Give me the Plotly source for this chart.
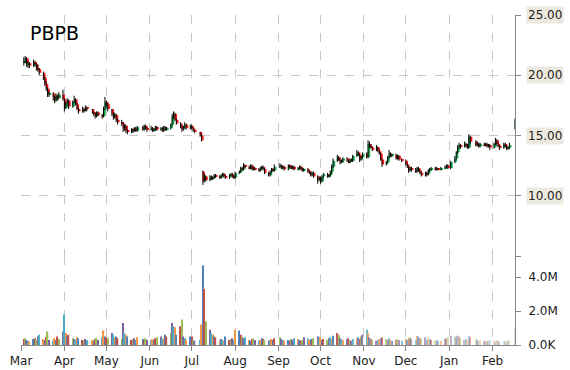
import plotly.graph_objects as go
import pandas as pd

title_text = "PBPB"
holidays = ["2014-04-18", "2014-05-26", "2014-07-04", "2014-09-01", "2014-11-27",
            "2014-12-25", "2015-01-01", "2015-01-19", "2015-02-16"]
dates = pd.bdate_range("2014-03-03", "2015-02-17", freq="C", holidays=holidays)

opens = [
    21.0,21.2,21.4,20.8,21.0,20.8,21.1,20.9,20.6,20.5,20.2,19.8,19.3,18.9,18.4,18.5,18.2,17.9,18.3,18.1,18.4,
    18.0,17.3,17.6,17.9,17.4,17.8,18.0,17.6,17.2,17.0,17.2,17.1,17.3,17.2,16.9,16.8,16.6,16.9,16.7,16.6,17.2,
    17.8,17.6,17.2,16.8,16.5,16.7,16.3,16.1,16.0,15.6,15.8,15.4,15.3,15.5,15.4,15.6,15.4,15.7,15.5,15.8,15.6,
    15.5,15.6,15.4,15.5,15.7,15.5,15.6,15.4,15.7,15.5,15.6,15.9,16.6,16.8,16.3,16.0,15.8,15.5,15.7,15.9,15.6,
    15.8,15.6,15.4,15.3,15.0,12.0,11.2,11.6,11.3,11.6,11.4,11.5,11.7,11.6,11.5,11.7,11.8,11.6,11.5,11.7,11.8,11.6,
    11.5,11.9,12.0,12.3,12.2,12.5,12.4,12.3,12.5,12.2,12.3,12.2,12.1,12.3,12.4,12.2,11.9,11.7,12.0,12.2,12.1,
    12.4,12.5,12.3,12.4,12.2,12.5,12.4,12.3,12.4,12.2,12.3,12.4,12.2,12.1,12.2,12.0,11.9,11.7,11.9,11.6,11.3,
    11.5,11.2,11.6,11.8,11.6,11.7,12.0,12.4,12.9,13.2,13.0,12.8,12.9,13.1,12.9,12.8,13.0,12.9,13.3,13.6,13.4,13.0,13.2,
    13.5,13.2,14.3,14.1,14.0,13.8,14.0,13.7,13.5,13.0,12.6,12.8,13.2,13.5,13.3,13.4,13.1,13.3,13.0,
    12.9,12.6,12.4,12.1,12.3,12.2,12.0,12.3,12.1,11.9,11.7,11.9,11.8,12.1,12.2,12.3,12.2,12.3,12.2,12.3,12.4,12.5,
    12.3,12.8,13.1,13.6,14.0,14.2,14.1,14.3,14.2,14.0,14.9,14.5,14.2,14.3,14.1,14.3,14.2,14.3,14.1,14.2,
    14.0,14.3,14.6,14.3,14.1,14.0,14.3,14.1,13.9,14.0,15.6,
]
highs = [
    21.5,21.6,21.5,21.2,21.1,21.3,21.2,21.0,20.9,20.6,20.3,19.9,19.5,19.0,18.7,18.6,18.3,18.5,18.4,18.6,18.8,
    18.1,17.8,18.1,18.0,17.9,18.3,18.1,17.7,17.3,17.4,17.3,17.5,17.4,17.2,17.0,16.9,17.0,17.0,16.8,17.4,18.2,
    17.9,17.7,17.2,16.9,16.9,16.8,16.4,16.3,16.1,15.9,15.9,15.5,15.6,15.6,15.7,15.7,15.8,15.8,15.9,15.9,15.7,
    15.8,15.7,15.6,15.8,15.8,15.7,15.7,15.8,15.8,15.7,16.0,16.8,17.0,16.9,16.4,16.1,15.9,15.8,16.1,16.0,15.9,
    15.9,15.7,15.5,15.3,15.1,12.1,11.8,11.7,11.7,11.7,11.6,11.8,11.8,11.7,11.8,11.9,11.9,11.7,11.8,11.9,11.9,11.7,
    12.0,12.1,12.4,12.4,12.7,12.6,12.5,12.6,12.6,12.4,12.4,12.3,12.4,12.5,12.5,12.3,12.0,12.1,12.3,12.3,12.6,
    12.7,12.6,12.5,12.5,12.6,12.6,12.5,12.5,12.5,12.4,12.5,12.5,12.3,12.3,12.3,12.1,12.0,12.0,12.0,11.7,11.6,
    11.6,11.7,11.9,11.9,11.8,12.1,12.6,13.1,13.4,13.3,13.1,13.0,13.2,13.2,13.0,13.1,13.1,13.4,13.8,13.7,13.5,13.3,13.6,
    13.6,14.6,14.5,14.3,14.1,14.2,14.1,13.8,13.6,13.1,12.9,13.3,13.8,13.6,13.5,13.5,13.4,13.4,13.1,
    13.0,12.7,12.5,12.4,12.4,12.3,12.4,12.4,12.2,12.0,12.0,12.0,12.2,12.3,12.4,12.4,12.4,12.3,12.4,12.5,12.6,12.6,
    12.9,13.3,13.7,14.2,14.4,14.3,14.5,14.4,14.3,15.1,15.0,14.6,14.5,14.4,14.4,14.4,14.4,14.4,14.3,14.3,
    14.4,14.8,14.7,14.4,14.2,14.4,14.4,14.2,14.1,14.4,16.4,
]
lows = [
    20.8,21.0,20.7,20.6,20.6,20.7,20.7,20.4,20.3,20.0,19.6,19.1,18.7,18.2,18.2,17.9,17.7,17.8,17.9,18.0,17.9,
    17.0,17.2,17.5,17.2,17.3,17.7,17.5,17.1,16.8,16.9,16.9,17.0,17.0,16.8,16.6,16.4,16.5,16.6,16.4,16.5,17.1,
    17.4,17.0,16.6,16.3,16.4,16.1,15.9,15.8,15.3,15.4,15.2,15.1,15.2,15.2,15.3,15.3,15.3,15.4,15.4,15.5,15.3,
    15.4,15.3,15.3,15.4,15.4,15.4,15.3,15.3,15.4,15.4,15.5,15.8,16.4,16.2,15.9,15.6,15.3,15.4,15.6,15.5,15.5,
    15.5,15.3,15.2,14.9,14.5,10.9,11.1,11.2,11.2,11.3,11.3,11.4,11.5,11.4,11.4,11.6,11.5,11.4,11.4,11.6,11.5,11.4,
    11.4,11.8,11.9,12.1,12.1,12.3,12.2,12.2,12.1,12.1,12.1,12.0,12.0,12.2,12.1,11.8,11.6,11.6,11.9,12.0,12.0,
    12.3,12.2,12.2,12.1,12.1,12.3,12.2,12.2,12.1,12.1,12.2,12.1,12.0,12.0,11.9,11.8,11.6,11.6,11.5,11.0,11.2,
    11.0,11.1,11.5,11.5,11.5,11.6,11.8,12.3,12.8,12.9,12.6,12.7,12.8,12.8,12.7,12.7,12.8,12.8,13.2,13.3,12.8,12.9,13.1,
    13.1,13.1,14.0,13.9,13.7,13.7,13.6,13.4,12.9,12.4,12.5,12.7,13.1,13.2,13.2,13.0,13.0,12.9,12.8,
    12.5,12.3,11.9,12.0,12.0,11.9,11.9,12.0,11.8,11.6,11.6,11.6,11.7,12.0,12.1,12.1,12.1,12.1,12.1,12.2,12.3,12.2,
    12.2,12.7,13.0,13.5,13.9,13.9,14.0,14.0,13.9,13.9,14.3,14.1,14.1,14.0,14.0,14.1,14.1,14.0,14.0,13.8,
    13.9,14.2,14.1,14.0,13.8,13.9,14.0,13.8,13.8,13.9,15.5,
]
closes = [
    21.2,21.4,20.9,21.0,20.8,21.1,20.9,20.6,20.5,20.2,19.8,19.3,18.9,18.4,18.5,18.2,17.9,18.3,18.1,18.4,18.0,
    17.3,17.6,17.9,17.4,17.8,18.0,17.6,17.2,17.0,17.2,17.1,17.3,17.2,16.9,16.8,16.6,16.9,16.7,16.6,17.2,17.8,
    17.6,17.2,16.8,16.5,16.7,16.3,16.1,16.0,15.6,15.8,15.4,15.3,15.5,15.4,15.6,15.4,15.7,15.5,15.8,15.6,15.5,
    15.6,15.4,15.5,15.7,15.5,15.6,15.4,15.7,15.5,15.6,15.9,16.6,16.8,16.3,16.0,15.8,15.5,15.7,15.9,15.6,15.8,
    15.6,15.4,15.3,15.0,14.6,11.2,11.6,11.3,11.6,11.4,11.5,11.7,11.6,11.5,11.7,11.8,11.6,11.5,11.7,11.8,11.6,11.5,
    11.9,12.0,12.3,12.2,12.5,12.4,12.3,12.5,12.2,12.3,12.2,12.1,12.3,12.4,12.2,11.9,11.7,12.0,12.2,12.1,12.4,
    12.5,12.3,12.4,12.2,12.5,12.4,12.3,12.4,12.2,12.3,12.4,12.2,12.1,12.2,12.0,11.9,11.7,11.9,11.6,11.3,11.5,
    11.2,11.6,11.8,11.6,11.7,12.0,12.4,12.9,13.2,13.0,12.8,12.9,13.1,12.9,12.8,13.0,12.9,13.3,13.6,13.4,13.0,13.2,13.5,
    13.2,14.3,14.1,14.0,13.8,14.0,13.7,13.5,13.0,12.6,12.8,13.2,13.5,13.3,13.4,13.1,13.3,13.0,12.9,
    12.6,12.4,12.1,12.3,12.2,12.0,12.3,12.1,11.9,11.7,11.9,11.8,12.1,12.2,12.3,12.2,12.3,12.2,12.3,12.4,12.5,12.3,
    12.8,13.1,13.6,14.0,14.2,14.1,14.3,14.2,14.0,14.9,14.5,14.2,14.3,14.1,14.3,14.2,14.3,14.1,14.2,14.0,
    14.3,14.6,14.3,14.1,14.0,14.3,14.1,13.9,14.0,14.2,16.2,
]
volumes_m = [
    0.35,0.40,0.30,0.25,0.20,0.35,0.40,0.30,0.50,0.60,0.35,0.30,0.45,0.80,0.30,0.25,0.40,0.30,0.50,0.35,0.80,
    1.80,0.70,0.50,0.60,0.40,0.35,0.30,0.45,0.40,0.30,0.25,0.35,0.30,0.30,0.25,0.35,0.40,0.30,0.45,0.85,0.50,
    0.45,0.40,0.70,0.60,0.45,0.50,0.40,0.35,1.30,0.70,0.60,0.50,0.30,0.35,0.40,0.30,0.45,0.35,0.30,0.40,0.30,
    0.30,0.35,0.30,0.40,0.45,0.50,0.35,0.40,0.60,0.50,0.70,1.30,1.10,1.05,0.60,1.10,1.50,0.50,0.40,0.30,0.50,
    0.50,0.30,0.25,0.30,1.20,4.70,3.30,1.40,0.90,0.70,0.60,0.50,0.45,0.25,0.35,0.30,0.25,0.50,0.30,0.35,0.40,0.30,
    0.90,0.85,0.60,0.50,0.40,0.45,0.30,0.25,0.35,0.40,0.30,0.25,0.30,0.40,0.35,0.30,0.25,0.30,0.35,0.30,0.40,
    0.45,0.35,0.30,0.25,0.30,0.25,0.35,0.30,0.40,0.35,0.30,0.25,0.30,0.45,0.40,0.30,0.35,0.25,0.40,0.50,0.40,
    0.45,0.30,0.35,0.30,0.40,0.45,0.35,0.55,0.70,0.60,0.40,0.35,0.30,0.35,0.40,0.30,0.25,0.35,0.40,0.45,0.35,0.50,0.60,
    0.90,0.70,0.45,0.35,0.30,0.25,0.30,0.35,0.40,0.45,0.35,0.30,0.40,0.30,0.25,0.30,0.35,0.30,0.25,
    0.35,0.30,0.40,0.45,0.35,0.30,0.55,0.50,0.40,0.35,0.45,0.30,0.40,0.35,0.30,0.25,0.30,0.20,0.25,0.35,0.40,0.45,
    0.55,0.50,0.45,0.55,0.50,0.40,0.30,0.35,0.30,0.55,0.45,0.35,0.30,0.25,0.30,0.20,0.25,0.20,0.25,0.30,
    0.25,0.20,0.25,0.30,0.20,0.25,0.20,0.20,0.25,0.30,1.00,
]
price_ticks = [5, 10, 15, 20, 25]
vol_ticks = [0, 2, 4]
vol_tick_text = ["0.0K", "2.0M", "4.0M"]

n = len(dates)
for arr in (opens, highs, lows, closes, volumes_m):
    assert len(arr) == n, (len(arr), n)

DAY = 86400000
UP, DOWN = "#14A84E", "#FF1A1A"
palette = ["#4F81BD", "#C0504D", "#9BBB59", "#8064A2", "#4BACC6", "#F79646"]
vol_colors = [palette[(i + 1) % len(palette)] for i in range(n)]
fade_start = 147
vol_opacity = [1.0 if i < fade_start else 1.0 - 0.72 * (i - fade_start) / (n - fade_start) for i in range(n)]

body_base = [min(o, c) for o, c in zip(opens, closes)]
body_h = [max(abs(c - o), 0.05) for o, c in zip(opens, closes)]
body_col = [UP if c >= o else DOWN for o, c in zip(opens, closes)]

FONT = "DejaVu Sans"
GRID = "#c8c8c8"
AX = "#888888"

fig = go.Figure()
fig.add_trace(go.Bar(x=dates, y=volumes_m, xaxis="x", yaxis="y",
                     marker=dict(color=vol_colors, opacity=vol_opacity, line_width=0),
                     width=DAY * 0.9, offset=-DAY * 0.45, hoverinfo="skip"))
fig.add_trace(go.Bar(x=dates, y=body_h, base=body_base, xaxis="x2", yaxis="y2",
                     marker=dict(color=body_col, line_width=0),
                     width=DAY * 1.8, offset=-DAY * 0.3, hoverinfo="skip"))
fig.add_trace(go.Ohlc(x=dates, open=opens, high=highs, low=lows, close=closes,
                      xaxis="x2", yaxis="y2", tickwidth=0,
                      increasing=dict(line=dict(color="black", width=1)),
                      decreasing=dict(line=dict(color="black", width=1))))

split = (345 - 256) / 330.0
xcommon = dict(type="date", range=["2014-03-01", "2015-02-17"], tick0="2014-03-01", dtick="M1",
               showgrid=True, gridcolor=GRID, griddash="dash", gridwidth=1, zeroline=False,
               automargin=False)
fig.update_layout(
    width=570, height=370,
    margin=dict(l=21, r=55, t=15, b=25, autoexpand=False),
    paper_bgcolor="white", plot_bgcolor="white",
    showlegend=False, barmode="overlay",
    font=dict(family=FONT, size=12, color="#222222"),
    xaxis=dict(**xcommon, domain=[0, 1], anchor="y", tickformat="%b",
               ticks="outside", ticklen=5, tickcolor=AX, showline=True, linecolor=AX,
               tickfont=dict(family=FONT, size=12, color="#222222")),
    xaxis2=dict(**xcommon, domain=[0, 1], anchor="y2", matches="x", showticklabels=False,
                ticks="", showline=False, rangeslider=dict(visible=False)),
    yaxis=dict(domain=[0, split], side="right", range=[0, 5.24], tickvals=vol_ticks,
               ticktext=vol_tick_text, ticks="outside", ticklen=5, tickcolor=AX,
               showline=True, linecolor=AX, showgrid=False, zeroline=False, automargin=False,
               ticklabelstandoff=5, tickfont=dict(family=FONT, size=12, color="#222222")),
    yaxis2=dict(domain=[split, 1], side="right", range=[5, 25], tickvals=price_ticks,
                showticklabels=False, ticks="outside", ticklen=5, tickcolor=AX,
                showline=True, linecolor=AX, showgrid=True, gridcolor=GRID,
                griddash="dash", zeroline=False, automargin=False),
)

annotations = [dict(text=title_text, xref="paper", yref="paper", x=0.014, y=0.945,
                    xanchor="left", yanchor="middle", showarrow=False,
                    font=dict(family=FONT, size=19, color="black"))]
for v in price_ticks[1:]:
    annotations.append(dict(text=f"{v:.2f}", xref="paper", yref="y2", x=1, y=v,
                            xanchor="left", yanchor="middle", xshift=11, showarrow=False,
                            bgcolor="#ECEADF", borderpad=1,
                            font=dict(family=FONT, size=12, color="#222222")))
fig.update_layout(annotations=annotations)

fig.write_html("out.html")
